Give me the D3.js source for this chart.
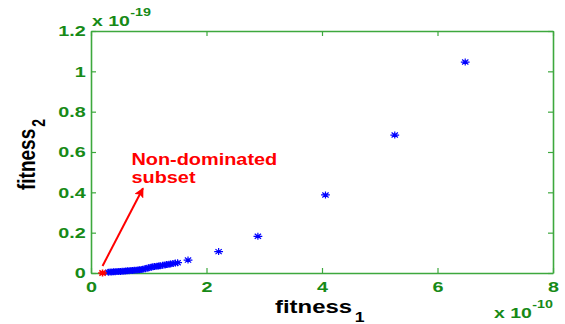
<!DOCTYPE html>
<html>
<head>
<meta charset="utf-8">
<script src="https://cdn.jsdelivr.net/npm/d3@7"></script>
<style>
  html, body { margin: 0; padding: 0; background: #fff; }
  svg { display: block; }
</style>
</head>
<body>
<div id="chart"></div>
<script>
/* fitness_1 vs fitness_2 scatter — MATLAB-ish look */

// fitness_1 (x 1e-10) and fitness_2 (x 1e-19) of the population
const fit1 = [0.30, 0.33, 0.36, 0.39, 0.42, 0.45, 0.48, 0.51, 0.54, 0.57, 0.60, 0.63, 0.66, 0.69,
  0.72, 0.75, 0.78, 0.81, 0.84, 0.87, 0.90, 0.94, 0.97, 1.00, 1.04, 1.07, 1.10, 1.14, 1.17, 1.20,
  1.24, 1.28, 1.31, 1.35, 1.38, 1.42, 1.46, 1.50, 1.68, 2.21, 2.89, 4.06, 5.26, 6.48];
const fit2 = [0.004, 0.005, 0.005, 0.006, 0.006, 0.007, 0.007, 0.008, 0.009, 0.009, 0.010, 0.011, 0.011, 0.012,
  0.013, 0.014, 0.014, 0.015, 0.016, 0.017, 0.018, 0.021, 0.024, 0.026, 0.029, 0.031, 0.032, 0.034, 0.035, 0.036,
  0.038, 0.040, 0.042, 0.044, 0.045, 0.047, 0.049, 0.051, 0.064, 0.106, 0.182, 0.387, 0.684, 1.046];

// non-dominated subset
const ndFit1 = [0.20];
const ndFit2 = [0.0];

const xTicks = [0, 2, 4, 6, 8];
const yTicks = [0, 0.2, 0.4, 0.6, 0.8, 1, 1.2];

// annotation arrow (data units) and its text
const arrowFrom = [0.20, 0.035];
const arrowTo = [0.90, 0.42];
const annoLines = ['Non-dominated', 'subset'];

const W = 565, H = 324;
const m = { left: 91, right: 12, top: 31, bottom: 51 };
const AXIS = '#3da83d', LBL = '#178a17';
const FONT = '"Liberation Sans", Arial, sans-serif';

const svg = d3.select('#chart').append('svg')
  .attr('width', W).attr('height', H)
  .style('background', '#fff');

const x = d3.scaleLinear().domain([0, 8]).range([m.left, W - m.right]);
const y = d3.scaleLinear().domain([0, 1.2]).range([H - m.bottom, m.top]);

// text in the reference is stretched sideways, so scale it in x
function stretchText(sel, sx) {
  sel.attr('transform', function () {
    const t = d3.select(this).attr('transform') || '';
    return t + ` scale(${sx},1)`;
  });
}

// axes: ticks point inward, box on all sides
const axB = svg.append('g').attr('transform', `translate(0,${y(0)})`)
  .call(d3.axisBottom(x).tickValues(xTicks).tickSizeInner(-5).tickSizeOuter(0).tickPadding(8));
const axL = svg.append('g').attr('transform', `translate(${x(0)},0)`)
  .call(d3.axisLeft(y).tickValues(yTicks).tickSizeInner(-5).tickSizeOuter(0).tickPadding(4)
    .tickFormat(d => d3.format('~g')(d)));
const axT = svg.append('g').attr('transform', `translate(0,${y(1.2)})`)
  .call(d3.axisTop(x).tickValues(xTicks).tickSizeInner(-5).tickSizeOuter(0).tickFormat(''));
const axR = svg.append('g').attr('transform', `translate(${x(8)},0)`)
  .call(d3.axisRight(y).tickValues(yTicks).tickSizeInner(-5).tickSizeOuter(0).tickFormat(''));

[axB, axL, axT, axR].forEach(a => {
  a.selectAll('.domain').attr('stroke', AXIS).attr('stroke-width', 1.6);
  a.selectAll('.tick line').attr('stroke', AXIS).attr('stroke-width', 1.2);
  a.selectAll('.tick text')
    .attr('fill', LBL).attr('font-family', FONT).attr('font-weight', 'bold').attr('font-size', 15);
});
axB.selectAll('.tick text').call(stretchText, 1.32);
axL.selectAll('.tick text').call(stretchText, 1.32);

// exponent labels
function sciLabel(px, py, exp) {
  const g = svg.append('g').attr('transform', `translate(${px},${py}) scale(1.3,1)`)
    .attr('fill', LBL).attr('font-family', FONT).attr('font-weight', 'bold');
  g.append('text').attr('font-size', 15).text('x 10');
  g.append('text').attr('x', 29.5).attr('y', -10).attr('font-size', 11).text(exp);
}
sciLabel(x(0) + 1, 26, '-19');
sciLabel(x(8) - 59, 318, '-10');

// axis titles
const xt = svg.append('text')
  .attr('transform', `translate(275,313) scale(1.26,1)`)
  .attr('font-family', FONT).attr('font-weight', 'bold').attr('font-size', 19).attr('fill', '#000');
xt.append('tspan').text('fitness');
xt.append('tspan').attr('dx', 2).attr('dy', 9).attr('font-size', 14).text('1');

const yt = svg.append('text')
  .attr('transform', `translate(35,190) scale(1.26,1) rotate(-90)`)
  .attr('font-family', FONT).attr('font-weight', 'bold').attr('font-size', 19).attr('fill', '#000');
yt.append('tspan').text('fitness');
yt.append('tspan').attr('dx', 2).attr('dy', 8).attr('font-size', 14).text('2');

// star marker like MATLAB '*'
function starPath(sx, sy) {
  const dx = sx * 0.72, dy = sy * 0.72;
  return `M${-sx},0H${sx}M0,${-sy}V${sy}M${-dx},${-dy}L${dx},${dy}M${-dx},${dy}L${dx},${-dy}`;
}

const pts = fit1.map((v, i) => [v, fit2[i]]);
svg.append('g').selectAll('path').data(pts).join('path')
  .attr('transform', d => `translate(${x(d[0])},${y(d[1])})`)
  .attr('d', starPath(4.4, 3.5))
  .attr('fill', 'none').attr('stroke', '#0000ff').attr('stroke-width', 1.2);

const nd = ndFit1.map((v, i) => [v, ndFit2[i]]);
svg.append('g').selectAll('path').data(nd).join('path')
  .attr('transform', d => `translate(${x(d[0])},${y(d[1])})`)
  .attr('d', starPath(4.4, 3.5))
  .attr('fill', 'none').attr('stroke', '#ff0000').attr('stroke-width', 1.6);

// arrow
svg.append('defs').append('marker')
  .attr('id', 'ah').attr('viewBox', '0 0 10 10').attr('refX', 9).attr('refY', 5)
  .attr('markerWidth', 5).attr('markerHeight', 5).attr('orient', 'auto')
  .attr('markerUnits', 'strokeWidth')
  .append('path').attr('d', 'M0,0L10,5L0,10L2,5Z').attr('fill', '#ff0000');

svg.append('line')
  .attr('x1', x(arrowFrom[0])).attr('y1', y(arrowFrom[1]))
  .attr('x2', x(arrowTo[0])).attr('y2', y(arrowTo[1]))
  .attr('stroke', '#ff0000').attr('stroke-width', 2)
  .attr('marker-end', 'url(#ah)');

svg.append('g').selectAll('text').data(annoLines).join('text')
  .attr('transform', (d, i) => `translate(${x(0.70)},${y(0.535) + i * 18}) scale(1.17,1)`)
  .attr('font-family', FONT).attr('font-weight', 'bold').attr('font-size', 17)
  .attr('fill', '#ff0000')
  .text(d => d);
</script>
</body>
</html>
